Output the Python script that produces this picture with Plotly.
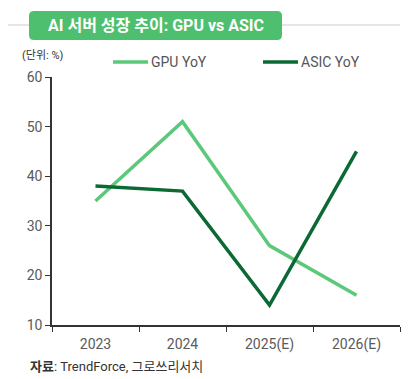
import re
import plotly.graph_objects as go

categories = ["2023", "2024", "2025(E)", "2026(E)"]
gpu_yoy = [35, 51, 26, 16]
asic_yoy = [38, 37, 14, 45]
y_ticks = [10, 20, 30, 40, 50, 60]

GPU_C = "#5cc879"
ASIC_C = "#0b6a34"
FONT = "Roboto, Noto Sans CJK KR, sans-serif"

OFF = 8  # default body margin of the html page
W, H = 410 - OFF, 379 - OFF
L, R, T, B = 52 - OFF, 10, 77 - OFF, 54
PW, PH = W - L - R, H - T - B


def px(x):
    return (x - OFF - L) / PW


def py(y):
    return (H - B - (y - OFF)) / PH


fig = go.Figure()
fig.add_trace(go.Scatter(x=categories, y=gpu_yoy, mode="lines", name="GPU YoY",
                         line=dict(color=GPU_C, width=3.5), cliponaxis=False))
fig.add_trace(go.Scatter(x=categories, y=asic_yoy, mode="lines", name="ASIC YoY",
                         line=dict(color=ASIC_C, width=3.5), cliponaxis=False))

fig.update_layout(
    width=W, height=H,
    margin=dict(l=L, r=R, t=T, b=B, autoexpand=False),
    paper_bgcolor="white", plot_bgcolor="white",
    font=dict(family=FONT, size=14, color="#555555"),
    showlegend=False,
    xaxis=dict(type="category", range=[-0.5, 3.5], showgrid=False, automargin=False,
               showline=True, linecolor="#333333", linewidth=1.5,
               ticks="outside", tickson="boundaries", ticklen=5, tickcolor="#333333",
               ticklabelstandoff=5,
               tickfont=dict(size=14, color="#5a5a5a"), fixedrange=True),
    yaxis=dict(range=[10, 60], tickvals=y_ticks, showgrid=False, zeroline=False, automargin=False,
               showline=True, linecolor="#333333", linewidth=1.5,
               ticks="outside", ticklen=5, tickcolor="#333333",
               tickfont=dict(size=14, color="#5a5a5a"), fixedrange=True),
)

# title bar
fig.add_shape(type="line", xref="paper", yref="paper", x0=px(8), x1=px(400),
              y0=py(25), y1=py(25), line=dict(color="#cccccc", width=1))
x0, x1, y0, y1, r = 29, 282, 11, 40, 5
path = (f"M {x0+r},{y0} L {x1-r},{y0} Q {x1},{y0} {x1},{y0+r} L {x1},{y1-r} "
        f"Q {x1},{y1} {x1-r},{y1} L {x0+r},{y1} Q {x0},{y1} {x0},{y1-r} "
        f"L {x0},{y0+r} Q {x0},{y0} {x0+r},{y0} Z")


def conv(m):
    a, b = float(m.group(1)), float(m.group(2))
    return f"{px(a)},{py(b)}"


path = re.sub(r"([\d.]+),([\d.]+)", conv, path)
fig.add_shape(type="path", xref="paper", yref="paper", path=path,
              fillcolor="#4ebf6f", line=dict(width=0), layer="above")
fig.add_annotation(text="<b>AI 서버 성장 추이: GPU vs ASIC</b>", xref="paper", yref="paper",
                   x=px(156), y=py(25.5), xanchor="center", yanchor="middle",
                   showarrow=False, font=dict(size=16, color="white", family=FONT))
fig.add_annotation(text="(단위: %)", xref="paper", yref="paper",
                   x=px(20), y=py(55), xanchor="left", yanchor="middle",
                   showarrow=False, font=dict(size=11, color="#333333"))

# legend (manual)
for (lx, label, col) in [(113, "GPU YoY", GPU_C), (263, "ASIC YoY", ASIC_C)]:
    fig.add_shape(type="line", xref="paper", yref="paper", x0=px(lx), x1=px(lx + 35),
                  y0=py(62), y1=py(62), line=dict(color=col, width=3.5))
    fig.add_annotation(text=label, xref="paper", yref="paper", x=px(lx + 36), y=py(62),
                       xanchor="left", yanchor="middle", showarrow=False,
                       font=dict(size=14, color="#555555"))

fig.add_annotation(text="<b>자료</b>: TrendForce, 그로쓰리서치", xref="paper", yref="paper",
                   x=px(28), y=py(366), xanchor="left", yanchor="middle",
                   showarrow=False, font=dict(size=13, color="#333333"))

fig.write_html("out.html")
